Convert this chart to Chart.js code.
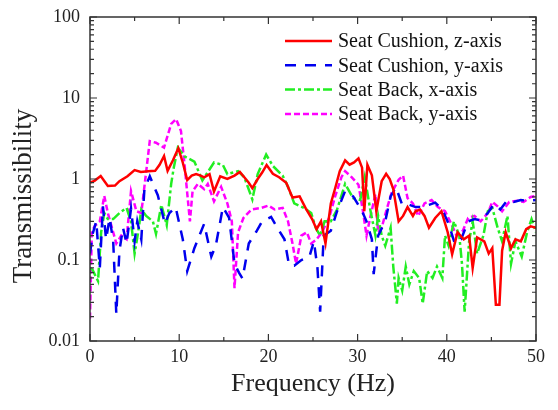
<!DOCTYPE html>
<html>
<head>
<meta charset="utf-8">
<script src="https://cdn.jsdelivr.net/npm/chart.js@4.4.1/dist/chart.umd.min.js"></script>
<style>
  html, body { margin: 0; padding: 0; background: #fff; }
  #wrap { width: 558px; height: 410px; }
</style>
</head>
<body>
<div id="wrap"><canvas id="chart"></canvas></div>
<script>
// Seat Cushion, z-axis
const czFreq = [0, 0.5, 1.2, 2.0, 2.8, 3.3, 4.2, 5.0, 5.7, 6.5, 7.3, 7.8, 8.3, 8.7, 9.3, 9.9, 10.4, 10.9, 11.4, 11.9, 12.4, 12.8, 13.4, 13.9, 14.6, 15.4, 16.2, 16.8, 17.3, 17.8, 18.2, 18.8, 19.3, 19.8, 20.5, 21.2, 22.0, 22.7, 23.5, 24.2, 24.9, 25.4, 25.9, 26.4, 27.0, 27.5, 28.0, 28.6, 29.1, 29.6, 30.1, 30.5, 30.75, 31.1, 31.6, 32.1, 32.7, 33.2, 33.6, 34.0, 34.6, 35.1, 35.6, 36.2, 36.5, 37.0, 37.5, 38.0, 38.7, 39.4, 40.1, 40.6, 41.2, 41.9, 42.5, 42.9, 43.4, 44.2, 44.7, 45.1, 45.5, 45.9, 46.2, 46.6, 47.2, 47.7, 48.3, 48.9, 49.4, 50];
const czTrans = [0.9, 0.95, 1.09, 0.82, 0.83, 0.94, 1.08, 1.29, 1.22, 1.25, 1.26, 1.5, 1.92, 1.26, 1.7, 2.4, 1.6, 0.97, 1.1, 1.15, 1.1, 1.05, 1.15, 0.7, 1.08, 1.0, 1.1, 1.22, 1.05, 0.9, 0.77, 1.0, 1.2, 1.49, 1.16, 1.05, 0.9, 0.59, 0.61, 0.43, 0.32, 0.24, 0.3, 0.16, 0.5, 0.78, 1.25, 1.7, 1.5, 1.6, 1.8, 1.38, 0.4, 1.5, 1.11, 0.4, 0.94, 1.16, 1.0, 0.75, 0.3, 0.35, 0.45, 0.35, 0.4, 0.42, 0.35, 0.25, 0.33, 0.40, 0.22, 0.118, 0.22, 0.18, 0.2, 0.08, 0.19, 0.17, 0.12, 0.14, 0.028, 0.028, 0.13, 0.22, 0.14, 0.18, 0.17, 0.24, 0.26, 0.25];

// Seat Cushion, y-axis
const cyFreq = [0, 0.3, 0.7, 1.1, 1.45, 1.8, 2.2, 2.6, 2.95, 3.3, 3.7, 4.1, 4.6, 5.0, 5.3, 5.75, 6.1, 6.7, 7.6, 8.4, 8.9, 9.6, 10.4, 10.9, 11.7, 12.8, 13.6, 14.1, 14.9, 15.6, 16.2, 16.7, 17.1, 17.8, 18.6, 19.3, 20.3, 21.0, 21.8, 22.3, 22.9, 23.7, 24.6, 25.1, 25.5, 25.8, 26.2, 27.0, 27.7, 28.6, 29.5, 30.5, 31.0, 31.6, 31.8, 32.3, 33.1, 33.7, 34.3, 35.0, 35.8, 36.5, 37.2, 38.0, 38.7, 39.5, 40.2, 40.9, 41.6, 42.4, 43.1, 43.8, 44.6, 45.3, 46.0, 46.8, 47.5, 48.3, 49.0, 50];
const cyTrans = [0.12, 0.21, 0.30, 0.08, 0.46, 0.18, 0.33, 0.17, 0.0215, 0.13, 0.25, 0.16, 0.43, 0.17, 0.3, 0.18, 0.75, 1.08, 0.63, 0.28, 0.38, 0.45, 0.18, 0.073, 0.14, 0.28, 0.11, 0.15, 0.45, 0.33, 0.09, 0.07, 0.059, 0.16, 0.22, 0.30, 0.34, 0.25, 0.18, 0.088, 0.085, 0.1, 0.11, 0.17, 0.08, 0.023, 0.2, 0.23, 0.4, 0.71, 0.61, 0.4, 0.3, 0.18, 0.067, 0.2, 0.3, 0.61, 0.79, 0.48, 0.48, 0.45, 0.45, 0.48, 0.51, 0.42, 0.28, 0.16, 0.18, 0.3, 0.32, 0.31, 0.38, 0.49, 0.42, 0.55, 0.52, 0.55, 0.54, 0.55];

// Seat Back, x-axis
const bxFreq = [0, 0.3, 0.9, 1.25, 1.6, 2.0, 2.6, 3.3, 4.1, 4.6, 5.0, 5.4, 5.75, 6.3, 7.05, 7.4, 8.0, 8.6, 9.1, 9.4, 9.85, 10.6, 11.7, 12.6, 13.9, 14.9, 15.4, 16.6, 17.3, 18.2, 18.8, 19.75, 20.5, 21.6, 22.2, 22.9, 24.0, 24.8, 25.3, 25.8, 26.3, 27.0, 27.7, 28.6, 29.5, 30.3, 30.8, 31.4, 32.0, 32.3, 32.7, 33.1, 33.7, 34.0, 34.4, 34.6, 35.0, 35.4, 35.8, 36.3, 36.9, 37.3, 37.8, 38.4, 38.9, 39.5, 39.8, 40.2, 40.8, 41.4, 41.7, 42.0, 42.5, 42.9, 43.4, 44.1, 44.6, 45.1, 45.7, 46.2, 46.8, 47.2, 47.7, 48.4, 49.0, 49.5, 50];
const bxTrans = [0.08, 0.075, 0.055, 0.22, 0.38, 0.32, 0.32, 0.38, 0.44, 0.3, 0.12, 0.22, 0.42, 0.35, 0.3, 0.21, 0.48, 0.27, 0.87, 1.4, 2.44, 1.9, 1.64, 0.96, 1.6, 1.49, 1.15, 1.25, 1.05, 0.56, 1.15, 2.0, 1.45, 1.1, 0.8, 0.5, 0.44, 0.38, 0.25, 0.2, 0.3, 0.3, 0.42, 0.87, 0.58, 0.55, 1.06, 0.43, 0.2, 0.35, 0.2, 0.15, 0.25, 0.083, 0.029, 0.06, 0.042, 0.083, 0.05, 0.073, 0.06, 0.029, 0.073, 0.06, 0.083, 0.06, 0.2, 0.15, 0.3, 0.2, 0.09, 0.023, 0.17, 0.3, 0.12, 0.2, 0.4, 0.44, 0.25, 0.17, 0.35, 0.09, 0.17, 0.11, 0.22, 0.32, 0.22];

// Seat Back, y-axis
const byFreq = [0, 0.2, 0.5, 1.1, 1.6, 2.0, 2.6, 2.95, 3.5, 4.1, 4.6, 5.2, 5.75, 6.2, 6.7, 7.4, 8.3, 9.1, 9.65, 10.2, 10.6, 11.2, 11.5, 12.1, 12.8, 13.2, 13.9, 14.7, 15.4, 15.9, 16.2, 16.6, 17.2, 18.1, 19.2, 20.0, 20.7, 21.6, 22.2, 22.7, 23.1, 23.7, 24.3, 24.8, 25.4, 26.0, 26.8, 27.5, 28.2, 28.6, 29.3, 30.1, 30.6, 31.0, 31.4, 32.0, 32.3, 32.7, 33.2, 33.8, 34.6, 35.1, 35.6, 36.2, 36.8, 37.5, 38.3, 39.0, 39.8, 40.5, 41.1, 41.8, 42.4, 43.1, 43.8, 44.6, 45.1, 45.7, 46.2, 47.0, 47.9, 48.6, 49.4, 50];
const byTrans = [0.019, 0.22, 0.26, 0.3, 0.62, 0.38, 0.22, 0.16, 0.2, 0.18, 0.71, 0.4, 0.38, 1.0, 2.94, 2.8, 2.44, 4.8, 5.5, 3.9, 1.5, 0.3, 0.71, 0.87, 0.75, 0.87, 0.53, 0.8, 0.5, 0.3, 0.045, 0.22, 0.33, 0.42, 0.44, 0.47, 0.42, 0.44, 0.3, 0.16, 0.09, 0.2, 0.22, 0.16, 0.18, 0.22, 0.33, 0.62, 1.06, 1.25, 1.06, 0.85, 0.4, 0.2, 0.33, 0.65, 0.22, 0.25, 0.4, 0.67, 0.98, 1.1, 0.58, 0.5, 0.35, 0.5, 0.55, 0.45, 0.4, 0.28, 0.2, 0.23, 0.33, 0.35, 0.3, 0.38, 0.52, 0.46, 0.4, 0.52, 0.54, 0.52, 0.6, 0.62];

const seriesNames = ['Seat Cushion, z-axis', 'Seat Cushion, y-axis', 'Seat Back, x-axis', 'Seat Back, y-axis'];
const yTickValues = [0.01, 0.1, 1, 10, 100];
const yTickLabels = ['0.01', '0.1', '1', '10', '100'];
const xTickLabels = ['0', '10', '20', '30', '40', '50'];

const SERIF = '"Liberation Serif", "Times New Roman", serif';

function toPoints(freq, vals) {
    return freq.map((f, i) => ({ x: f, y: vals[i] }));
}

function majorIndex(v) {
    return yTickValues.findIndex(t => Math.abs(v / t - 1) < 1e-6);
}

// frame, inward ticks, axis titles and legend
const framePlugin = {
    id: 'frame',
    afterDraw(chart) {
        const { ctx, chartArea: a, scales: { x, y } } = chart;
        ctx.save();
        ctx.strokeStyle = '#333';
        ctx.lineWidth = 1.5;
        ctx.strokeRect(a.left, a.top, a.right - a.left, a.bottom - a.top);

        ctx.lineWidth = 1.2;
        ctx.beginPath();
        x.ticks.forEach(t => {
            const px = x.getPixelForValue(t.value);
            const len = t.value % 10 === 0 ? 7 : 4;
            ctx.moveTo(px, a.bottom); ctx.lineTo(px, a.bottom - len);
            ctx.moveTo(px, a.top); ctx.lineTo(px, a.top + len);
        });
        y.ticks.forEach(t => {
            const py = y.getPixelForValue(t.value);
            const len = majorIndex(t.value) >= 0 ? 7 : 4;
            ctx.moveTo(a.left, py); ctx.lineTo(a.left + len, py);
            ctx.moveTo(a.right, py); ctx.lineTo(a.right - len, py);
        });
        ctx.stroke();

        // axis titles
        ctx.fillStyle = '#222';
        ctx.font = '26px ' + SERIF;
        ctx.textAlign = 'center';
        ctx.textBaseline = 'middle';
        ctx.fillText('Frequency (Hz)', (a.left + a.right) / 2, 384);
        ctx.save();
        ctx.translate(24, 196);
        ctx.rotate(-Math.PI / 2);
        ctx.font = '27px ' + SERIF;
        ctx.fillText('Transmissibility', 0, 0);
        ctx.restore();

        // legend
        ctx.font = '20px ' + SERIF;
        ctx.textAlign = 'left';
        chart.data.datasets.forEach((ds, i) => {
            const ly = 41 + i * 24.3;
            ctx.strokeStyle = ds.borderColor;
            ctx.lineWidth = ds.borderWidth;
            ctx.setLineDash(ds.borderDash || []);
            ctx.beginPath();
            ctx.moveTo(285, ly);
            ctx.lineTo(332, ly);
            ctx.stroke();
            ctx.setLineDash([]);
            ctx.fillStyle = '#111';
            ctx.fillText(ds.label, 338, ly + 1);
        });
        ctx.restore();
    }
};

const ctx = document.getElementById('chart').getContext('2d');
new Chart(ctx, {
    type: 'line',
    data: {
        datasets: [
            { label: seriesNames[0], data: toPoints(czFreq, czTrans), borderColor: '#ff0000', borderWidth: 2.5 },
            { label: seriesNames[1], data: toPoints(cyFreq, cyTrans), borderColor: '#0000ee', borderWidth: 2.5, borderDash: [11, 9] },
            { label: seriesNames[2], data: toPoints(bxFreq, bxTrans), borderColor: '#22ee22', borderWidth: 2.5, borderDash: [10, 3, 3, 3] },
            { label: seriesNames[3], data: toPoints(byFreq, byTrans), borderColor: '#ff00ff', borderWidth: 2.5, borderDash: [6, 3] }
        ]
    },
    options: {
        responsive: true,
        maintainAspectRatio: false,
        animation: false,
        layout: { padding: { top: 17, right: 22, left: 0, bottom: 0 } },
        elements: {
            point: { radius: 0 },
            line: { tension: 0, fill: false }
        },
        plugins: {
            legend: { display: false },
            tooltip: { enabled: false }
        },
        scales: {
            x: {
                type: 'linear',
                min: 0,
                max: 50,
                grid: { display: false },
                border: { display: false },
                ticks: {
                    stepSize: 5,
                    autoSkip: false,
                    maxRotation: 0,
                    padding: -3,
                    color: '#222',
                    font: { family: SERIF, size: 18 },
                    callback: v => (v % 10 === 0 ? xTickLabels[v / 10] : '')
                },
                afterFit: s => { s.height = 69; }
            },
            y: {
                type: 'logarithmic',
                min: 0.01,
                max: 100,
                grid: { display: false },
                border: { display: false },
                ticks: {
                    autoSkip: false,
                    padding: 2,
                    color: '#222',
                    font: { family: SERIF, size: 18 },
                    callback: v => {
                        const k = majorIndex(v);
                        return k >= 0 ? yTickLabels[k] : '';
                    }
                },
                afterFit: s => { s.width = 90; }
            }
        }
    },
    plugins: [framePlugin]
});
</script>
</body>
</html>
